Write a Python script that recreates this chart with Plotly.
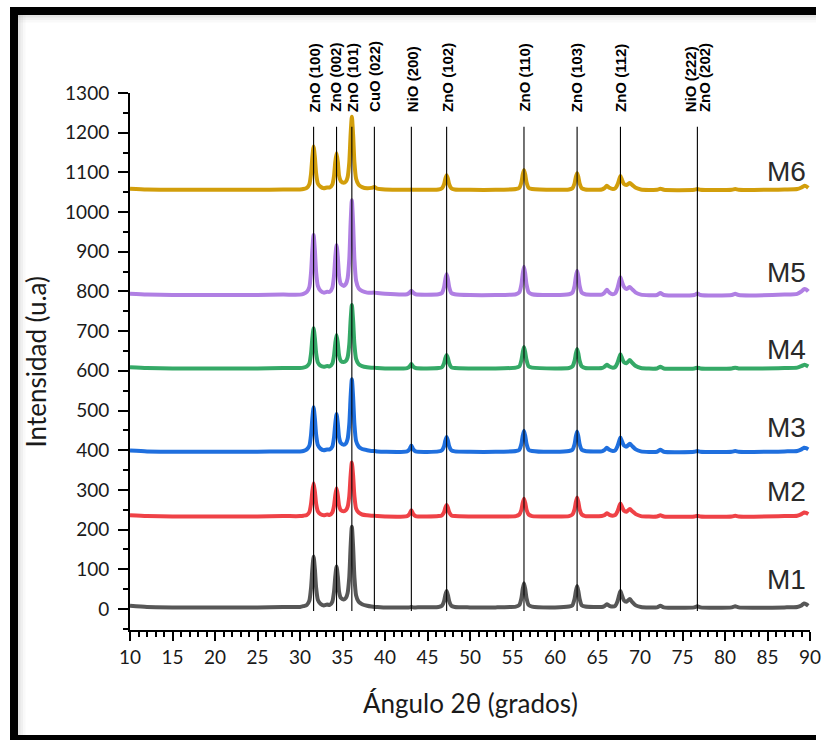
import plotly.graph_objects as go

# ---------------- data ----------------
two_theta = [10, 12, 15, 20, 25, 28, 30,
             30.4, 30.8, 31.1, 31.3, 31.45, 31.6, 31.75, 31.9, 32.1, 32.4, 32.8,
             33.2,
             33.5, 33.8, 34.0, 34.15, 34.3, 34.45, 34.6, 34.8,
             35.15,
             35.4, 35.6, 35.8, 35.95, 36.1, 36.25, 36.4, 36.6, 36.9, 37.3, 37.9,
             38.4, 38.75, 39.1, 40, 42.6, 42.9, 43.1, 43.3, 43.6,
             46.3, 46.7, 46.95, 47.1, 47.25, 47.4, 47.55, 47.8, 48.2,
             50, 53, 55.4, 55.8, 56.05, 56.2, 56.35, 56.5, 56.65, 56.9, 57.3,
             60, 61.65, 62.05, 62.3, 62.45, 62.6, 62.75, 62.9, 63.15, 63.55,
             65.5, 65.8, 66.1, 66.4, 66.8, 67.1, 67.35, 67.55, 67.7, 67.85, 68.1, 68.4, 68.8, 69.1, 69.5, 70.1,
             72.0, 72.4, 72.8, 76.4, 76.75, 77.1, 80.8, 81.2, 81.6, 87, 88.5, 89.0, 89.3, 89.55, 89.8]

M1 = [8, 5, 4, 4, 4, 5, 5,
      7, 10, 21, 53, 100, 132, 100, 53, 23, 13, 9,
      11,
      10, 18, 43, 81, 107, 81, 43, 28,
      24,
      28, 40, 81, 156, 207, 156, 81, 34, 18, 12, 8,
      6, 5, 5, 4, 4, 4, 5, 4, 4,
      5, 8, 20, 35, 45, 35, 20, 8, 5,
      4, 4, 6, 10, 27, 50, 65, 50, 27, 10, 6,
      4, 6, 9, 25, 44, 58, 44, 25, 9, 6,
      5, 7, 12, 8, 6, 8, 19, 35, 45, 36, 22, 18, 25, 17, 9, 5,
      4, 8, 4, 4, 7, 4, 4, 7, 4, 4, 5, 9, 14, 12, 8]

M2 = [236, 234, 233, 233, 233, 234, 234,
      235, 237, 244, 265, 296, 317, 296, 265, 246, 239, 236,
      238,
      237, 243, 260, 286, 304, 286, 260, 249,
      246,
      249, 257, 285, 335, 369, 335, 285, 253, 243, 238, 236,
      235, 235, 234, 233, 234, 240, 249, 240, 234,
      234, 236, 244, 255, 262, 255, 244, 236, 234,
      233, 233, 234, 238, 250, 267, 278, 267, 250, 238, 234,
      233, 234, 238, 251, 269, 281, 269, 251, 238, 234,
      234, 236, 241, 237, 235, 237, 246, 258, 266, 259, 248, 245, 252, 246, 239, 234,
      233, 236, 233, 233, 235, 233, 233, 235, 233, 234, 235, 239, 243, 242, 239]

M3 = [399, 397, 396, 396, 396, 397, 397,
      398, 402, 411, 439, 480, 508, 480, 439, 413, 404, 400,
      402,
      402, 409, 432, 467, 491, 467, 432, 418,
      414,
      417, 428, 466, 533, 579, 533, 466, 423, 409, 403, 400,
      398, 398, 397, 396, 397, 403, 412, 403, 397,
      397, 400, 410, 424, 433, 424, 410, 400, 397,
      396, 396, 398, 401, 416, 436, 449, 436, 416, 401, 398,
      396, 398, 401, 415, 434, 447, 434, 415, 401, 398,
      397, 400, 406, 401, 398, 400, 410, 423, 432, 424, 412, 409, 416, 410, 402, 397,
      396, 401, 396, 396, 398, 396, 396, 398, 396, 397, 398, 402, 406, 405, 402]

M4 = [609, 607, 606, 606, 606, 607, 607,
      608, 611, 619, 644, 682, 707, 682, 644, 621, 613, 610,
      612,
      611, 618, 638, 669, 690, 669, 638, 625,
      622,
      625, 634, 667, 726, 766, 726, 667, 630, 617, 612, 609,
      608, 608, 607, 606, 607, 611, 617, 611, 607,
      607, 609, 619, 632, 640, 632, 619, 609, 607,
      606, 606, 608, 611, 627, 646, 660, 646, 627, 611, 608,
      606, 607, 611, 625, 643, 655, 643, 625, 611, 607,
      607, 610, 615, 611, 608, 610, 620, 633, 642, 634, 622, 619, 627, 620, 612, 607,
      606, 610, 606, 606, 608, 606, 606, 608, 606, 607, 608, 612, 615, 614, 611]

M5 = [794, 792, 791, 791, 791, 792, 792,
      794, 799, 811, 848, 904, 942, 904, 848, 814, 802, 797,
      799,
      799, 809, 839, 886, 917, 886, 839, 819,
      814,
      819, 833, 882, 970, 1030, 970, 882, 827, 808, 801, 797,
      797, 797, 796, 794, 793, 797, 802, 797, 793,
      793, 796, 811, 831, 844, 831, 811, 796, 793,
      791, 791, 793, 798, 818, 844, 862, 844, 818, 798, 793,
      791, 793, 797, 814, 837, 852, 837, 814, 797, 793,
      792, 796, 804, 797, 793, 796, 808, 825, 836, 826, 812, 806, 811, 805, 797, 792,
      791, 796, 791, 791, 795, 791, 791, 794, 791, 792, 794, 800, 806, 805, 800]

M6 = [1059, 1057, 1056, 1056, 1056, 1057, 1057,
      1058, 1061, 1070, 1097, 1138, 1165, 1138, 1097, 1072, 1064, 1060,
      1062,
      1062, 1069, 1091, 1126, 1149, 1126, 1091, 1078,
      1074,
      1077, 1088, 1126, 1194, 1240, 1194, 1126, 1084, 1069, 1063, 1060,
      1061, 1063, 1059, 1057, 1056, 1056, 1057, 1056, 1056,
      1057, 1060, 1070, 1084, 1093, 1084, 1070, 1060, 1057,
      1056, 1056, 1058, 1061, 1075, 1094, 1106, 1094, 1075, 1061, 1058,
      1056, 1057, 1060, 1072, 1088, 1098, 1088, 1072, 1060, 1057,
      1057, 1060, 1066, 1061, 1058, 1060, 1069, 1082, 1091, 1083, 1071, 1068, 1073, 1068, 1061, 1057,
      1056, 1059, 1056, 1056, 1058, 1056, 1056, 1058, 1056, 1057, 1058, 1062, 1066, 1065, 1061]

series_names = ["M1", "M2", "M3", "M4", "M5", "M6"]
series_values = [M1, M2, M3, M4, M5, M6]
series_colors = ["#575757", "#EF4247", "#1F6FDE", "#35A967", "#B07FE3", "#D29E0B"]
name_label_y = [73, 295, 456, 655, 849, 1101]

peak_lines = [31.6, 34.3, 36.1, 38.75, 43.1, 47.25, 56.35, 62.6, 67.7, 76.75]
peak_labels = ["ZnO (100)", "ZnO (002)", "ZnO (101)", "CuO (022)", "NiO (200)",
               "ZnO (102)", "ZnO (110)", "ZnO (103)", "ZnO (112)", "NiO (222)", "ZnO (202)"]
peak_label_x = [31.75, 34.15, 36.2, 38.75, 43.2, 47.35, 56.3, 62.55, 67.65, 75.9, 77.6]

x_ticks = list(range(10, 95, 5))
y_ticks = list(range(0, 1400, 100))

# ---------------- figure ----------------
W, H = 824, 740
L, R, T, B = 130, 14, 93, 110
pw, ph = W - L - R, H - T - B

def px(xs):
    return (xs - L) / pw

def py(ys):
    return (H - B - ys) / ph

fig = go.Figure()
for name, vals, col in zip(series_names, series_values, series_colors):
    fig.add_trace(go.Scatter(x=two_theta, y=vals, mode="lines", name=name,
                             line=dict(color=col, width=4, shape="spline", smoothing=0.6),
                             showlegend=False, hoverinfo="skip"))

shapes = []
for xv in peak_lines:
    shapes.append(dict(type="line", xref="x", yref="y", x0=xv, x1=xv, y0=-5, y1=1215,
                       line=dict(color="black", width=1.1), layer="above"))

frame = "black"
shapes += [
    dict(type="rect", xref="paper", yref="paper", x0=px(10), x1=px(18), y0=py(740), y1=py(7),
         fillcolor=frame, line=dict(width=0), layer="above"),
    dict(type="rect", xref="paper", yref="paper", x0=px(10), x1=px(816), y0=py(15), y1=py(7),
         fillcolor=frame, line=dict(width=0), layer="above"),
    dict(type="rect", xref="paper", yref="paper", x0=px(10), x1=px(816), y0=py(740), y1=py(735),
         fillcolor=frame, line=dict(width=0), layer="above"),
]
for i, op in enumerate([0.22, 0.12, 0.05]):
    shapes.append(dict(type="rect", xref="paper", yref="paper", x0=px(18 + 2.5 * i), x1=px(20.5 + 2.5 * i),
                       y0=py(735), y1=py(15), fillcolor="gray", opacity=op, line=dict(width=0), layer="below"))
    shapes.append(dict(type="rect", xref="paper", yref="paper", x0=px(18), x1=px(816),
                       y0=py(17.5 + 2.5 * i), y1=py(15 + 2.5 * i), fillcolor="gray", opacity=op,
                       line=dict(width=0), layer="below"))

annotations = []
for txt, xv in zip(peak_labels, peak_label_x):
    annotations.append(dict(x=xv, xref="x", y=py(114), yref="paper", text="<b>" + txt + "</b>", textangle=-90,
                            showarrow=False, xanchor="center", yanchor="bottom",
                            font=dict(family="Liberation Sans, Arial", size=15, color="black")))
for name, yv in zip(series_names, name_label_y):
    annotations.append(dict(x=87.2, xref="x", y=yv, yref="y", text=name, showarrow=False,
                            xanchor="center", yanchor="middle",
                            font=dict(family="Liberation Sans, Arial", size=28, color="#2a2a2a")))
annotations.append(dict(x=px(35.5), xref="paper", y=py(362), yref="paper", text="Intensidad (u.a)",
                        textangle=-90, showarrow=False, xanchor="center", yanchor="middle",
                        font=dict(family="Lato", size=26, color="#1a1a1a")))
annotations.append(dict(x=px(470), xref="paper", y=py(703), yref="paper", text="Ángulo 2θ (grados)",
                        showarrow=False, xanchor="center", yanchor="middle",
                        font=dict(family="Lato", size=26, color="#1a1a1a")))

fig.update_layout(
    width=W, height=H, autosize=False,
    margin=dict(l=L, r=R, t=T, b=B, pad=0, autoexpand=False),
    paper_bgcolor="white", plot_bgcolor="white",
    shapes=shapes, annotations=annotations,
    showlegend=False,
)
fig.update_xaxes(range=[10, 90], tickmode="array", tickvals=x_ticks, ticktext=[str(v) for v in x_ticks],
                 automargin=False,
                 ticks="outside", ticklen=9, tickwidth=2, tickcolor="black",
                 showline=True, linecolor="black", linewidth=2, mirror=False,
                 showgrid=False, zeroline=False,
                 minor=dict(ticks="outside", ticklen=5, tickwidth=1.5, tickcolor="black", dtick=1, tick0=10,
                            showgrid=False),
                 tickfont=dict(family="Lato", size=19, color="#1a1a1a"))
fig.update_yaxes(range=[-53, 1300], tickmode="array", tickvals=y_ticks, ticktext=[str(v) for v in y_ticks],
                 automargin=False, ticklabelstandoff=5,
                 ticks="outside", ticklen=10, tickwidth=2, tickcolor="black",
                 showline=True, linecolor="black", linewidth=2, mirror=False,
                 showgrid=False, zeroline=False,
                 minor=dict(ticks="outside", ticklen=5, tickwidth=1.5, tickcolor="black", dtick=50, tick0=0,
                            showgrid=False),
                 tickfont=dict(family="Lato", size=19, color="#1a1a1a"))

# remove the default page margin so the 824x740 figure fills the window exactly
fig.write_html("out.html", config={"displayModeBar": False},
               post_script=("document.body.style.margin='0';"
                            "document.body.style.overflow='hidden';"
                            "document.documentElement.style.overflow='hidden';"
                            "document.body.style.background='white';"
                            "document.documentElement.style.background='white';"))
